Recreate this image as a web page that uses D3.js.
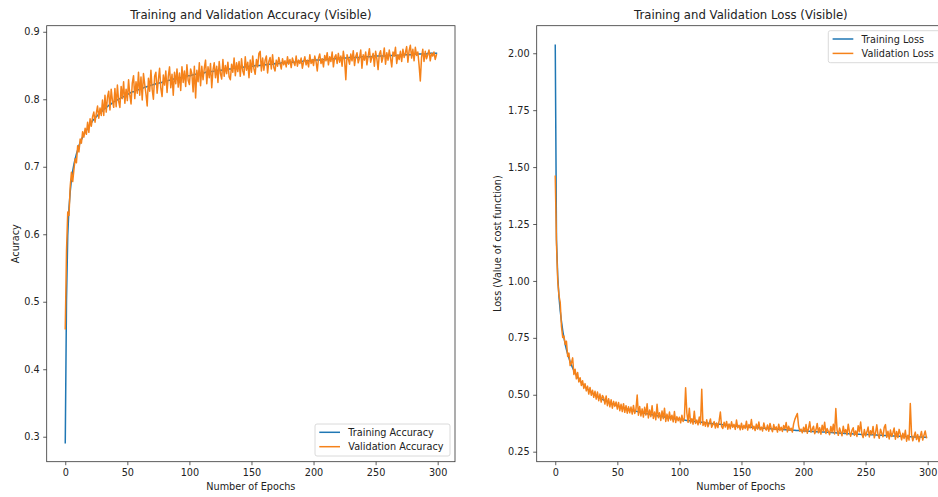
<!DOCTYPE html>
<html>
<head>
<meta charset="utf-8">
<script src="https://cdn.jsdelivr.net/npm/d3@7/dist/d3.min.js"></script>
<style>
  html, body { margin: 0; padding: 0; background: #fff; }
  svg { display: block; }
  text { font-family: "DejaVu Sans", sans-serif; fill: #222; }
</style>
</head>
<body>
<svg id="chart" width="938" height="497"></svg>
<script>
// ---------------- DATA ----------------
const accTitle = "Training and Validation Accuracy (Visible)";
const lossTitle = "Training and Validation Loss (Visible)";
const xLabel = "Number of Epochs";
const accYLabel = "Acuracy";
const lossYLabel = "Loss (Value of cost function)";
const accLegend = ["Training Accuracy", "Validation Accuracy"];
const lossLegend = ["Training Loss", "Validation Loss"];
const epochTicks = [0, 50, 100, 150, 200, 250, 300];
const accTicks = [0.3, 0.4, 0.5, 0.6, 0.7, 0.8, 0.9];
const lossTicks = [0.25, 0.50, 0.75, 1.00, 1.25, 1.50, 1.75, 2.00];

const trainAcc = [
0.291,0.502,0.598,0.639,0.663,0.681,0.694,0.704,0.712,0.719,
0.725,0.731,0.736,0.740,0.744,0.748,0.751,0.754,0.757,0.760,
0.763,0.765,0.768,0.770,0.772,0.774,0.776,0.778,0.780,0.781,
0.783,0.785,0.786,0.788,0.789,0.791,0.792,0.793,0.795,0.796,
0.797,0.798,0.799,0.800,0.801,0.802,0.803,0.804,0.805,0.806,
0.807,0.808,0.809,0.810,0.811,0.811,0.812,0.813,0.814,0.814,
0.815,0.816,0.816,0.817,0.818,0.818,0.819,0.819,0.820,0.821,
0.821,0.822,0.822,0.823,0.823,0.824,0.824,0.825,0.825,0.826,
0.826,0.827,0.827,0.828,0.828,0.829,0.829,0.830,0.830,0.830,
0.831,0.831,0.832,0.832,0.833,0.833,0.833,0.834,0.834,0.835,
0.835,0.835,0.836,0.836,0.837,0.837,0.837,0.838,0.838,0.838,
0.839,0.839,0.839,0.840,0.840,0.840,0.841,0.841,0.841,0.841,
0.842,0.842,0.842,0.843,0.843,0.843,0.843,0.844,0.844,0.844,
0.844,0.845,0.845,0.845,0.845,0.846,0.846,0.846,0.846,0.847,
0.847,0.847,0.847,0.847,0.848,0.848,0.848,0.848,0.849,0.849,
0.849,0.849,0.849,0.850,0.850,0.850,0.850,0.850,0.851,0.851,
0.851,0.851,0.851,0.852,0.852,0.852,0.852,0.852,0.852,0.853,
0.853,0.853,0.853,0.853,0.854,0.854,0.854,0.854,0.854,0.854,
0.855,0.855,0.855,0.855,0.855,0.855,0.856,0.856,0.856,0.856,
0.856,0.856,0.857,0.857,0.857,0.857,0.857,0.857,0.857,0.858,
0.858,0.858,0.858,0.858,0.858,0.858,0.859,0.859,0.859,0.859,
0.859,0.859,0.859,0.860,0.860,0.860,0.860,0.860,0.860,0.860,
0.860,0.861,0.861,0.861,0.861,0.861,0.861,0.861,0.861,0.862,
0.862,0.862,0.862,0.862,0.862,0.862,0.862,0.862,0.863,0.863,
0.863,0.863,0.863,0.863,0.863,0.863,0.863,0.863,0.864,0.864,
0.864,0.864,0.864,0.864,0.864,0.864,0.864,0.864,0.864,0.865,
0.865,0.865,0.865,0.865,0.865,0.865,0.865,0.865,0.865,0.865,
0.866,0.866,0.866,0.866,0.866,0.866,0.866,0.866,0.866,0.866,
0.866,0.867,0.867,0.867,0.867,0.867,0.867,0.867,0.867,0.867,
0.867,0.867,0.868,0.868,0.868,0.868,0.868,0.868,0.868,0.868
];

const valAcc = [
0.460,0.575,0.633,0.628,0.671,0.692,0.678,0.696,0.712,0.706,
0.731,0.722,0.741,0.735,0.752,0.744,0.757,0.748,0.766,0.751,
0.771,0.760,0.774,0.781,0.766,0.779,0.790,0.772,0.787,0.776,
0.799,0.776,0.806,0.781,0.803,0.812,0.784,0.815,0.798,0.788,
0.816,0.789,0.821,0.797,0.788,0.819,0.801,0.826,0.794,0.815,
0.798,0.829,0.806,0.793,0.824,0.835,0.801,0.826,0.809,0.840,
0.806,0.833,0.799,0.838,0.822,0.808,0.790,0.831,0.812,0.843,
0.815,0.800,0.834,0.840,0.809,0.829,0.846,0.816,0.804,0.836,
0.821,0.842,0.810,0.834,0.848,0.817,0.837,0.806,0.840,0.823,
0.845,0.818,0.839,0.813,0.848,0.825,0.842,0.819,0.851,0.828,
0.822,0.845,0.838,0.811,0.849,0.802,0.843,0.826,0.854,0.820,
0.849,0.829,0.846,0.858,0.823,0.848,0.832,0.853,0.817,0.843,
0.854,0.832,0.849,0.825,0.856,0.838,0.830,0.859,0.834,0.850,
0.838,0.855,0.833,0.829,0.852,0.840,0.861,0.835,0.854,0.841,
0.856,0.834,0.860,0.842,0.836,0.863,0.843,0.855,0.832,0.858,
0.840,0.864,0.845,0.837,0.859,0.848,0.868,0.871,0.842,0.861,
0.843,0.858,0.864,0.839,0.856,0.862,0.845,0.866,0.847,0.842,
0.858,0.849,0.862,0.853,0.845,0.860,0.851,0.857,0.848,0.863,
0.852,0.859,0.847,0.861,0.855,0.850,0.864,0.849,0.858,0.853,
0.861,0.846,0.855,0.863,0.851,0.858,0.848,0.866,0.853,0.859,
0.850,0.864,0.856,0.842,0.861,0.867,0.853,0.860,0.848,0.865,
0.857,0.869,0.851,0.863,0.856,0.870,0.848,0.862,0.866,0.853,
0.868,0.855,0.864,0.849,0.871,0.858,0.829,0.866,0.860,0.852,
0.867,0.857,0.872,0.850,0.863,0.869,0.854,0.861,0.873,0.846,
0.866,0.858,0.870,0.851,0.864,0.875,0.855,0.862,0.868,0.849,
0.871,0.860,0.844,0.867,0.872,0.855,0.863,0.876,0.852,0.869,
0.858,0.873,0.861,0.848,0.870,0.864,0.877,0.853,0.866,0.859,
0.871,0.856,0.874,0.862,0.869,0.878,0.855,0.872,0.880,0.861,
0.874,0.857,0.877,0.865,0.870,0.851,0.827,0.862,0.874,0.856,
0.871,0.860,0.866,0.873,0.857,0.868,0.864,0.870,0.859,0.866
];

const trainLoss = [
2.035,1.180,1.020,0.930,0.868,0.822,0.783,0.750,0.722,0.699,
0.679,0.661,0.645,0.631,0.618,0.606,0.596,0.586,0.577,0.569,
0.561,0.554,0.547,0.541,0.535,0.530,0.525,0.520,0.515,0.511,
0.507,0.503,0.499,0.496,0.492,0.489,0.486,0.483,0.480,0.477,
0.474,0.472,0.469,0.467,0.464,0.462,0.460,0.458,0.456,0.454,
0.452,0.450,0.448,0.446,0.444,0.443,0.441,0.439,0.438,0.436,
0.435,0.433,0.432,0.430,0.429,0.428,0.426,0.425,0.424,0.422,
0.421,0.420,0.419,0.418,0.417,0.415,0.414,0.413,0.412,0.411,
0.410,0.409,0.408,0.407,0.406,0.405,0.404,0.403,0.402,0.401,
0.400,0.399,0.399,0.398,0.397,0.396,0.395,0.394,0.393,0.393,
0.392,0.391,0.390,0.389,0.389,0.388,0.387,0.386,0.386,0.385,
0.384,0.383,0.383,0.382,0.381,0.381,0.380,0.379,0.379,0.378,
0.377,0.377,0.376,0.375,0.375,0.374,0.374,0.373,0.372,0.372,
0.371,0.371,0.370,0.370,0.369,0.368,0.368,0.367,0.367,0.366,
0.366,0.365,0.365,0.364,0.364,0.363,0.363,0.362,0.362,0.361,
0.361,0.360,0.360,0.359,0.359,0.358,0.358,0.358,0.357,0.357,
0.356,0.356,0.355,0.355,0.355,0.354,0.354,0.353,0.353,0.353,
0.352,0.352,0.351,0.351,0.351,0.350,0.350,0.349,0.349,0.349,
0.348,0.348,0.348,0.347,0.347,0.346,0.346,0.346,0.345,0.345,
0.345,0.344,0.344,0.344,0.343,0.343,0.343,0.342,0.342,0.342,
0.341,0.341,0.341,0.340,0.340,0.340,0.339,0.339,0.339,0.338,
0.338,0.338,0.337,0.337,0.337,0.336,0.336,0.336,0.335,0.335,
0.335,0.334,0.334,0.334,0.333,0.333,0.333,0.332,0.332,0.332,
0.331,0.331,0.331,0.330,0.330,0.330,0.329,0.329,0.329,0.329,
0.328,0.328,0.328,0.327,0.327,0.327,0.326,0.326,0.326,0.326,
0.325,0.325,0.325,0.324,0.324,0.324,0.324,0.323,0.323,0.323,
0.322,0.322,0.322,0.322,0.321,0.321,0.321,0.321,0.320,0.320,
0.320,0.320,0.319,0.319,0.319,0.319,0.318,0.318,0.318,0.318,
0.317,0.317,0.317,0.317,0.316,0.316,0.316,0.316,0.315,0.315,
0.315,0.315,0.315,0.314,0.314,0.314,0.314,0.313,0.313,0.313
];

const valLoss = [
1.460,1.160,1.000,0.935,0.905,0.800,0.752,0.758,0.721,0.735,
0.668,0.683,0.628,0.640,0.662,0.589,0.612,0.570,0.598,0.556,
0.575,0.541,0.562,0.528,0.549,0.517,0.538,0.503,0.532,0.498,
0.520,0.489,0.515,0.481,0.512,0.474,0.503,0.468,0.497,0.486,
0.459,0.495,0.452,0.483,0.447,0.478,0.441,0.471,0.449,0.468,
0.437,0.466,0.430,0.458,0.426,0.461,0.423,0.452,0.419,0.447,
0.421,0.446,0.415,0.453,0.418,0.436,0.499,0.410,0.448,0.407,
0.438,0.402,0.445,0.411,0.460,0.398,0.433,0.404,0.452,0.396,
0.424,0.390,0.458,0.399,0.421,0.387,0.429,0.395,0.441,0.383,
0.415,0.385,0.424,0.389,0.410,0.381,0.426,0.378,0.404,0.386,
0.401,0.377,0.410,0.383,0.398,0.531,0.420,0.379,0.441,0.376,
0.395,0.371,0.428,0.374,0.389,0.368,0.402,0.372,0.524,0.365,
0.381,0.362,0.390,0.359,0.375,0.394,0.357,0.370,0.382,0.354,
0.376,0.356,0.385,0.424,0.360,0.352,0.379,0.358,0.383,0.349,
0.372,0.351,0.381,0.357,0.370,0.348,0.389,0.355,0.366,0.346,
0.375,0.348,0.366,0.352,0.384,0.345,0.369,0.354,0.391,0.350,
0.362,0.343,0.371,0.349,0.380,0.346,0.358,0.341,0.376,0.352,
0.345,0.367,0.340,0.374,0.352,0.338,0.369,0.347,0.359,0.336,
0.371,0.343,0.357,0.339,0.365,0.350,0.378,0.337,0.362,0.344,
0.353,0.336,0.372,0.392,0.405,0.418,0.364,0.340,0.349,0.333,
0.357,0.338,0.369,0.331,0.352,0.381,0.336,0.348,0.362,0.329,
0.346,0.374,0.333,0.355,0.327,0.366,0.341,0.379,0.330,0.352,
0.339,0.325,0.361,0.336,0.370,0.328,0.440,0.345,0.322,0.354,
0.337,0.320,0.362,0.333,0.347,0.324,0.371,0.336,0.318,0.344,
0.355,0.322,0.341,0.317,0.364,0.338,0.380,0.329,0.312,0.347,
0.319,0.336,0.358,0.315,0.342,0.326,0.361,0.311,0.333,0.368,
0.324,0.309,0.349,0.331,0.316,0.357,0.369,0.313,0.340,0.306,
0.345,0.317,0.333,0.354,0.305,0.339,0.312,0.348,0.327,0.302,
0.331,0.308,0.344,0.296,0.322,0.301,0.462,0.327,0.298,0.318,
0.336,0.303,0.325,0.294,0.317,0.339,0.301,0.322,0.341,0.312
];

// ---------------- DRAWING ----------------
const svg = d3.select("#chart");
const BLUE = "#1f77b4", ORANGE = "#f5821a";
const FS = 9.7, TFS = 11.7;

function panel(opt) {
  const x = d3.scaleLinear().domain([-14.95, 313.95]).range([opt.left, opt.right]);
  const y = d3.scaleLinear().domain(opt.yDomain).range([opt.bottom, opt.top]);
  const g = svg.append("g");

  const xAxis = d3.axisBottom(x).tickValues(epochTicks).tickSize(3.5).tickPadding(3.5).tickFormat(d3.format("d"));
  const gx = g.append("g").attr("transform", `translate(0,${opt.bottom})`).call(xAxis);
  const yAxis = d3.axisLeft(y).tickValues(opt.yTicks).tickSize(3.5).tickPadding(3.5).tickFormat(d3.format(opt.fmt));
  const gy = g.append("g").attr("transform", `translate(${opt.left},0)`).call(yAxis);
  [gx, gy].forEach(a => {
    a.select(".domain").remove();
    a.selectAll(".tick line").attr("stroke", "#333").attr("stroke-width", 0.8);
    a.selectAll(".tick text").attr("font-size", FS).attr("font-family", "DejaVu Sans").attr("fill", "#222");
  });

  const clipId = "clip" + opt.id;
  svg.append("clipPath").attr("id", clipId).append("rect")
    .attr("x", opt.left).attr("y", opt.top).attr("width", opt.right - opt.left).attr("height", opt.bottom - opt.top);

  const line = d3.line().x((d, i) => x(i)).y(d => y(d));
  const lg = g.append("g").attr("clip-path", `url(#${clipId})`);
  lg.append("path").datum(opt.train).attr("d", line).attr("fill", "none")
    .attr("stroke", BLUE).attr("stroke-width", 1.5).attr("stroke-linejoin", "round").attr("stroke-linecap", "square");
  lg.append("path").datum(opt.val).attr("d", line).attr("fill", "none")
    .attr("stroke", ORANGE).attr("stroke-width", 1.5).attr("stroke-linejoin", "round").attr("stroke-linecap", "square");

  // frame
  g.append("rect").attr("x", opt.left).attr("y", opt.top)
    .attr("width", opt.right - opt.left).attr("height", opt.bottom - opt.top)
    .attr("fill", "none").attr("stroke", "#333").attr("stroke-width", 0.8);

  // title
  g.append("text").attr("x", (opt.left + opt.right) / 2).attr("y", 18.5)
    .attr("text-anchor", "middle").attr("font-size", TFS).text(opt.title);
  // x label
  g.append("text").attr("x", (opt.left + opt.right) / 2).attr("y", 490)
    .attr("text-anchor", "middle").attr("font-size", FS).text(xLabel);
  // y label
  g.append("text").attr("transform", `translate(${opt.ylabX},${(opt.top + opt.bottom) / 2}) rotate(-90)`)
    .attr("text-anchor", "middle").attr("font-size", FS).text(opt.ylabel);

  // legend
  const L = opt.legend;
  const lgd = g.append("g");
  lgd.append("rect").attr("x", L.x).attr("y", L.y).attr("width", L.w).attr("height", L.h)
    .attr("rx", 2).attr("fill", "#fff").attr("fill-opacity", 0.8)
    .attr("stroke", "#d0d0d0").attr("stroke-width", 0.8);
  opt.names.forEach((name, i) => {
    const yy = L.y + 8.3 + i * 14.4;
    lgd.append("line").attr("x1", L.x + 4.3).attr("x2", L.x + 25).attr("y1", yy).attr("y2", yy)
      .attr("stroke", i === 0 ? BLUE : ORANGE).attr("stroke-width", 1.5);
    lgd.append("text").attr("x", L.x + 33.3).attr("y", yy + 3.5).attr("font-size", FS).text(name);
  });
}

panel({
  id: "acc", left: 46.7, right: 455, top: 25.7, bottom: 461.7,
  yDomain: [0.263, 0.909], yTicks: accTicks, fmt: ".1f",
  train: trainAcc, val: valAcc, title: accTitle, ylabel: accYLabel, ylabX: 18.6,
  names: accLegend, legend: { x: 315, y: 424, w: 135, h: 32 }
});

panel({
  id: "loss", left: 536.7, right: 945, top: 25.7, bottom: 461.7,
  yDomain: [0.206, 2.121], yTicks: lossTicks, fmt: ".2f",
  train: trainLoss, val: valLoss, title: lossTitle, ylabel: lossYLabel, ylabX: 501.3,
  names: lossLegend, legend: { x: 828.3, y: 30.7, w: 112, h: 32 }
});
</script>
</body>
</html>
